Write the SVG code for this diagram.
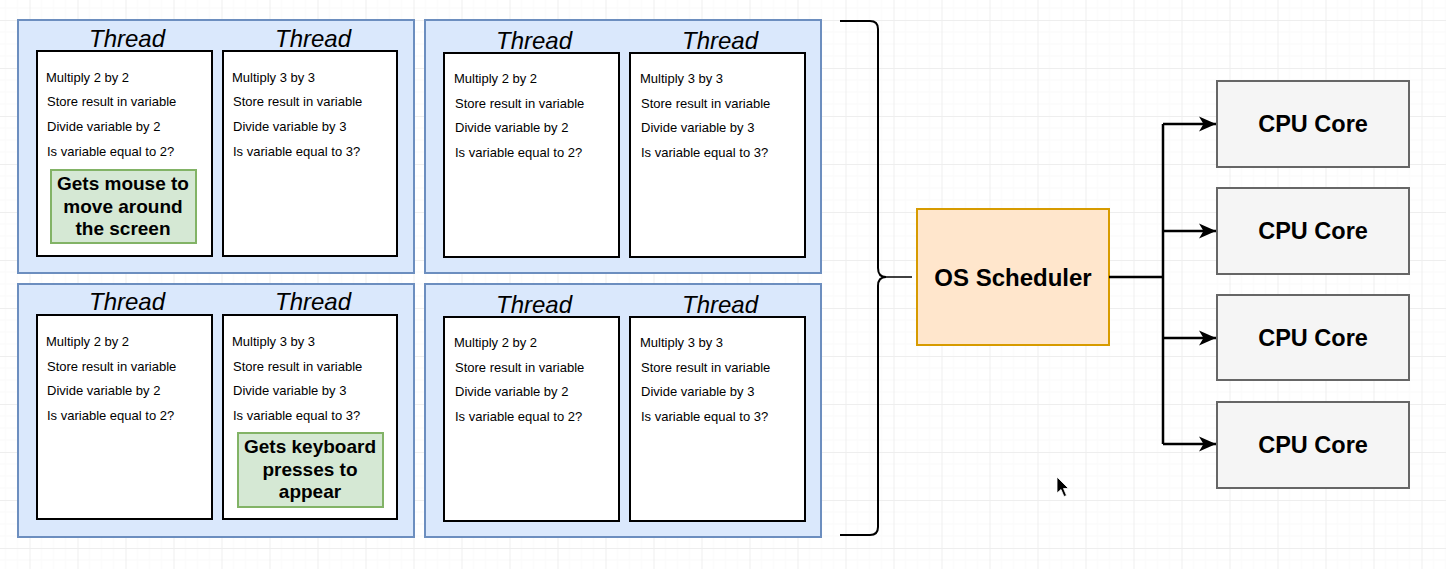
<svg xmlns="http://www.w3.org/2000/svg" width="1446" height="569" viewBox="0 0 1446 569">
  <style>
    .proc { fill: #dae8fc; stroke: #6c8ebf; stroke-width: 2; }
    .thread { fill: #ffffff; stroke: #000000; stroke-width: 2; }
    .note { fill: #d5e8d4; stroke: #82b366; stroke-width: 2; }
    .sched { fill: #ffe6cc; stroke: #d79b00; stroke-width: 2; }
    .core { fill: #f5f5f5; stroke: #666666; stroke-width: 2; }
    .title { font-family: "Liberation Sans", Arial, sans-serif; font-style: italic; font-size: 24px; fill: #000; text-anchor: middle; }
    .step { font-family: "Liberation Sans", Arial, sans-serif; font-size: 13px; fill: #000; }
    .noteText { font-family: "Liberation Sans", Arial, sans-serif; font-weight: bold; font-size: 19px; fill: #000; text-anchor: middle; }
    .big { font-family: "Liberation Sans", Arial, sans-serif; font-weight: bold; font-size: 23.5px; fill: #000; text-anchor: middle; }
    .wire { fill: none; stroke: #000; stroke-width: 2.5; }
  </style>
  <defs>
    <pattern id="grid" patternUnits="userSpaceOnUse" x="29.5" y="20" width="48" height="48">
      <path d="M12 0V48M24 0V48M36 0V48M0 12H48M0 24H48M0 36H48" stroke="#f9f9f9" stroke-width="1" fill="none"/>
      <path d="M0.5 0V48M0 0.5H48" stroke="#eeeeee" stroke-width="1" fill="none"/>
    </pattern>
    <marker id="arrow" markerUnits="userSpaceOnUse" markerWidth="20" markerHeight="18" refX="17" refY="9" orient="auto">
      <path d="M0,1.5 L17,9 L0,16.5 L4.5,9 Z" fill="#000"/>
    </marker>
  </defs>

  <!-- canvas -->
  <rect width="1446" height="569" fill="#ffffff"/>
  <rect width="1446" height="569" fill="url(#grid)"/>

  <!-- process: top left -->
  <g id="process-top-left">
    <rect class="proc" x="18" y="20" width="396" height="253"/>
    <g id="thread-tl-1">
      <text class="title" x="127" y="47">Thread</text>
      <rect class="thread" x="37" y="51" width="175" height="205"/>
      <text class="step" x="46" y="81.5">Multiply 2 by 2</text>
      <text class="step" x="47" y="106">Store result in variable</text>
      <text class="step" x="47" y="130.5">Divide variable by 2</text>
      <text class="step" x="47" y="155.5">Is variable equal to 2?</text>
      <g id="note-mouse">
        <rect class="note" x="51" y="170" width="145" height="73"/>
        <text class="noteText" x="123" y="190">Gets mouse to</text>
        <text class="noteText" x="123" y="212.5">move around</text>
        <text class="noteText" x="123" y="235">the screen</text>
      </g>
    </g>
    <g id="thread-tl-2">
      <text class="title" x="313" y="47">Thread</text>
      <rect class="thread" x="223" y="51" width="174" height="205"/>
      <text class="step" x="232" y="81.5">Multiply 3 by 3</text>
      <text class="step" x="233" y="106">Store result in variable</text>
      <text class="step" x="233" y="130.5">Divide variable by 3</text>
      <text class="step" x="233" y="155.5">Is variable equal to 3?</text>
    </g>
  </g>

  <!-- process: top right -->
  <g id="process-top-right">
    <rect class="proc" x="425" y="20" width="396" height="253"/>
    <g id="thread-tr-1">
      <text class="title" x="534" y="49">Thread</text>
      <rect class="thread" x="444" y="53" width="175" height="204"/>
      <text class="step" x="454" y="83">Multiply 2 by 2</text>
      <text class="step" x="455" y="107.5">Store result in variable</text>
      <text class="step" x="455" y="132">Divide variable by 2</text>
      <text class="step" x="455" y="156.5">Is variable equal to 2?</text>
    </g>
    <g id="thread-tr-2">
      <text class="title" x="720" y="49">Thread</text>
      <rect class="thread" x="630" y="53" width="175" height="204"/>
      <text class="step" x="640" y="83">Multiply 3 by 3</text>
      <text class="step" x="641" y="107.5">Store result in variable</text>
      <text class="step" x="641" y="132">Divide variable by 3</text>
      <text class="step" x="641" y="156.5">Is variable equal to 3?</text>
    </g>
  </g>

  <!-- process: bottom left -->
  <g id="process-bottom-left">
    <rect class="proc" x="18" y="284" width="396" height="253"/>
    <g id="thread-bl-1">
      <text class="title" x="127" y="310">Thread</text>
      <rect class="thread" x="37" y="315" width="175" height="204"/>
      <text class="step" x="46" y="345.5">Multiply 2 by 2</text>
      <text class="step" x="47" y="370.5">Store result in variable</text>
      <text class="step" x="47" y="394.5">Divide variable by 2</text>
      <text class="step" x="47" y="419.5">Is variable equal to 2?</text>
    </g>
    <g id="thread-bl-2">
      <text class="title" x="313" y="310">Thread</text>
      <rect class="thread" x="223" y="315" width="174" height="204"/>
      <text class="step" x="232" y="345.5">Multiply 3 by 3</text>
      <text class="step" x="233" y="370.5">Store result in variable</text>
      <text class="step" x="233" y="394.5">Divide variable by 3</text>
      <text class="step" x="233" y="419.5">Is variable equal to 3?</text>
      <g id="note-keyboard">
        <rect class="note" x="238" y="433" width="145" height="74"/>
        <text class="noteText" x="310" y="453">Gets keyboard</text>
        <text class="noteText" x="310" y="475.5">presses to</text>
        <text class="noteText" x="310" y="498">appear</text>
      </g>
    </g>
  </g>

  <!-- process: bottom right -->
  <g id="process-bottom-right">
    <rect class="proc" x="425" y="284" width="396" height="253"/>
    <g id="thread-br-1">
      <text class="title" x="534" y="313">Thread</text>
      <rect class="thread" x="444" y="317" width="175" height="204"/>
      <text class="step" x="454" y="346.5">Multiply 2 by 2</text>
      <text class="step" x="455" y="371.5">Store result in variable</text>
      <text class="step" x="455" y="395.5">Divide variable by 2</text>
      <text class="step" x="455" y="420.5">Is variable equal to 2?</text>
    </g>
    <g id="thread-br-2">
      <text class="title" x="720" y="313">Thread</text>
      <rect class="thread" x="630" y="317" width="175" height="204"/>
      <text class="step" x="640" y="346.5">Multiply 3 by 3</text>
      <text class="step" x="641" y="371.5">Store result in variable</text>
      <text class="step" x="641" y="395.5">Divide variable by 3</text>
      <text class="step" x="641" y="420.5">Is variable equal to 3?</text>
    </g>
  </g>

  <!-- curly bracket gathering all processes -->
  <g id="bracket">
    <path d="M840,21 H870 Q878,21 878,29 V268 Q878,277 886,277 Q878,277 878,286 V527 Q878,535 870,535 H840" fill="none" stroke="#000" stroke-width="2"/>
    <path d="M886,277 H912" fill="none" stroke="#000" stroke-width="1.5"/>
  </g>

  <!-- scheduler -->
  <g id="os-scheduler">
    <rect class="sched" x="917" y="209" width="192" height="136"/>
    <text class="big" x="1013" y="285.5" style="font-size:24px">OS Scheduler</text>
  </g>

  <!-- cores -->
  <g id="cpu-core-1">
    <rect class="core" x="1217" y="81" width="192" height="86"/>
    <text class="big" x="1313" y="132">CPU Core</text>
  </g>
  <g id="cpu-core-2">
    <rect class="core" x="1217" y="188" width="192" height="86"/>
    <text class="big" x="1313" y="239">CPU Core</text>
  </g>
  <g id="cpu-core-3">
    <rect class="core" x="1217" y="295" width="192" height="85"/>
    <text class="big" x="1313" y="345.5">CPU Core</text>
  </g>
  <g id="cpu-core-4">
    <rect class="core" x="1217" y="402" width="192" height="86"/>
    <text class="big" x="1313" y="452.5">CPU Core</text>
  </g>

  <!-- connectors: one shared trunk fanning out to the four cores -->
  <g id="connectors">
    <path class="wire" d="M1109,277 H1163 M1163,124 V444"/>
    <path class="wire" d="M1163,124 H1216" marker-end="url(#arrow)"/>
    <path class="wire" d="M1163,231 H1216" marker-end="url(#arrow)"/>
    <path class="wire" d="M1163,338 H1216" marker-end="url(#arrow)"/>
    <path class="wire" d="M1163,444 H1216" marker-end="url(#arrow)"/>
  </g>

  <!-- pointer -->
  <path d="M1057,477 L1057,493 L1061,489.5 L1064,496.5 L1066.5,495.5 L1063.5,488.5 L1068.5,488.5 Z" fill="#000" stroke="#ffffff" stroke-width="0.8"/>
</svg>
